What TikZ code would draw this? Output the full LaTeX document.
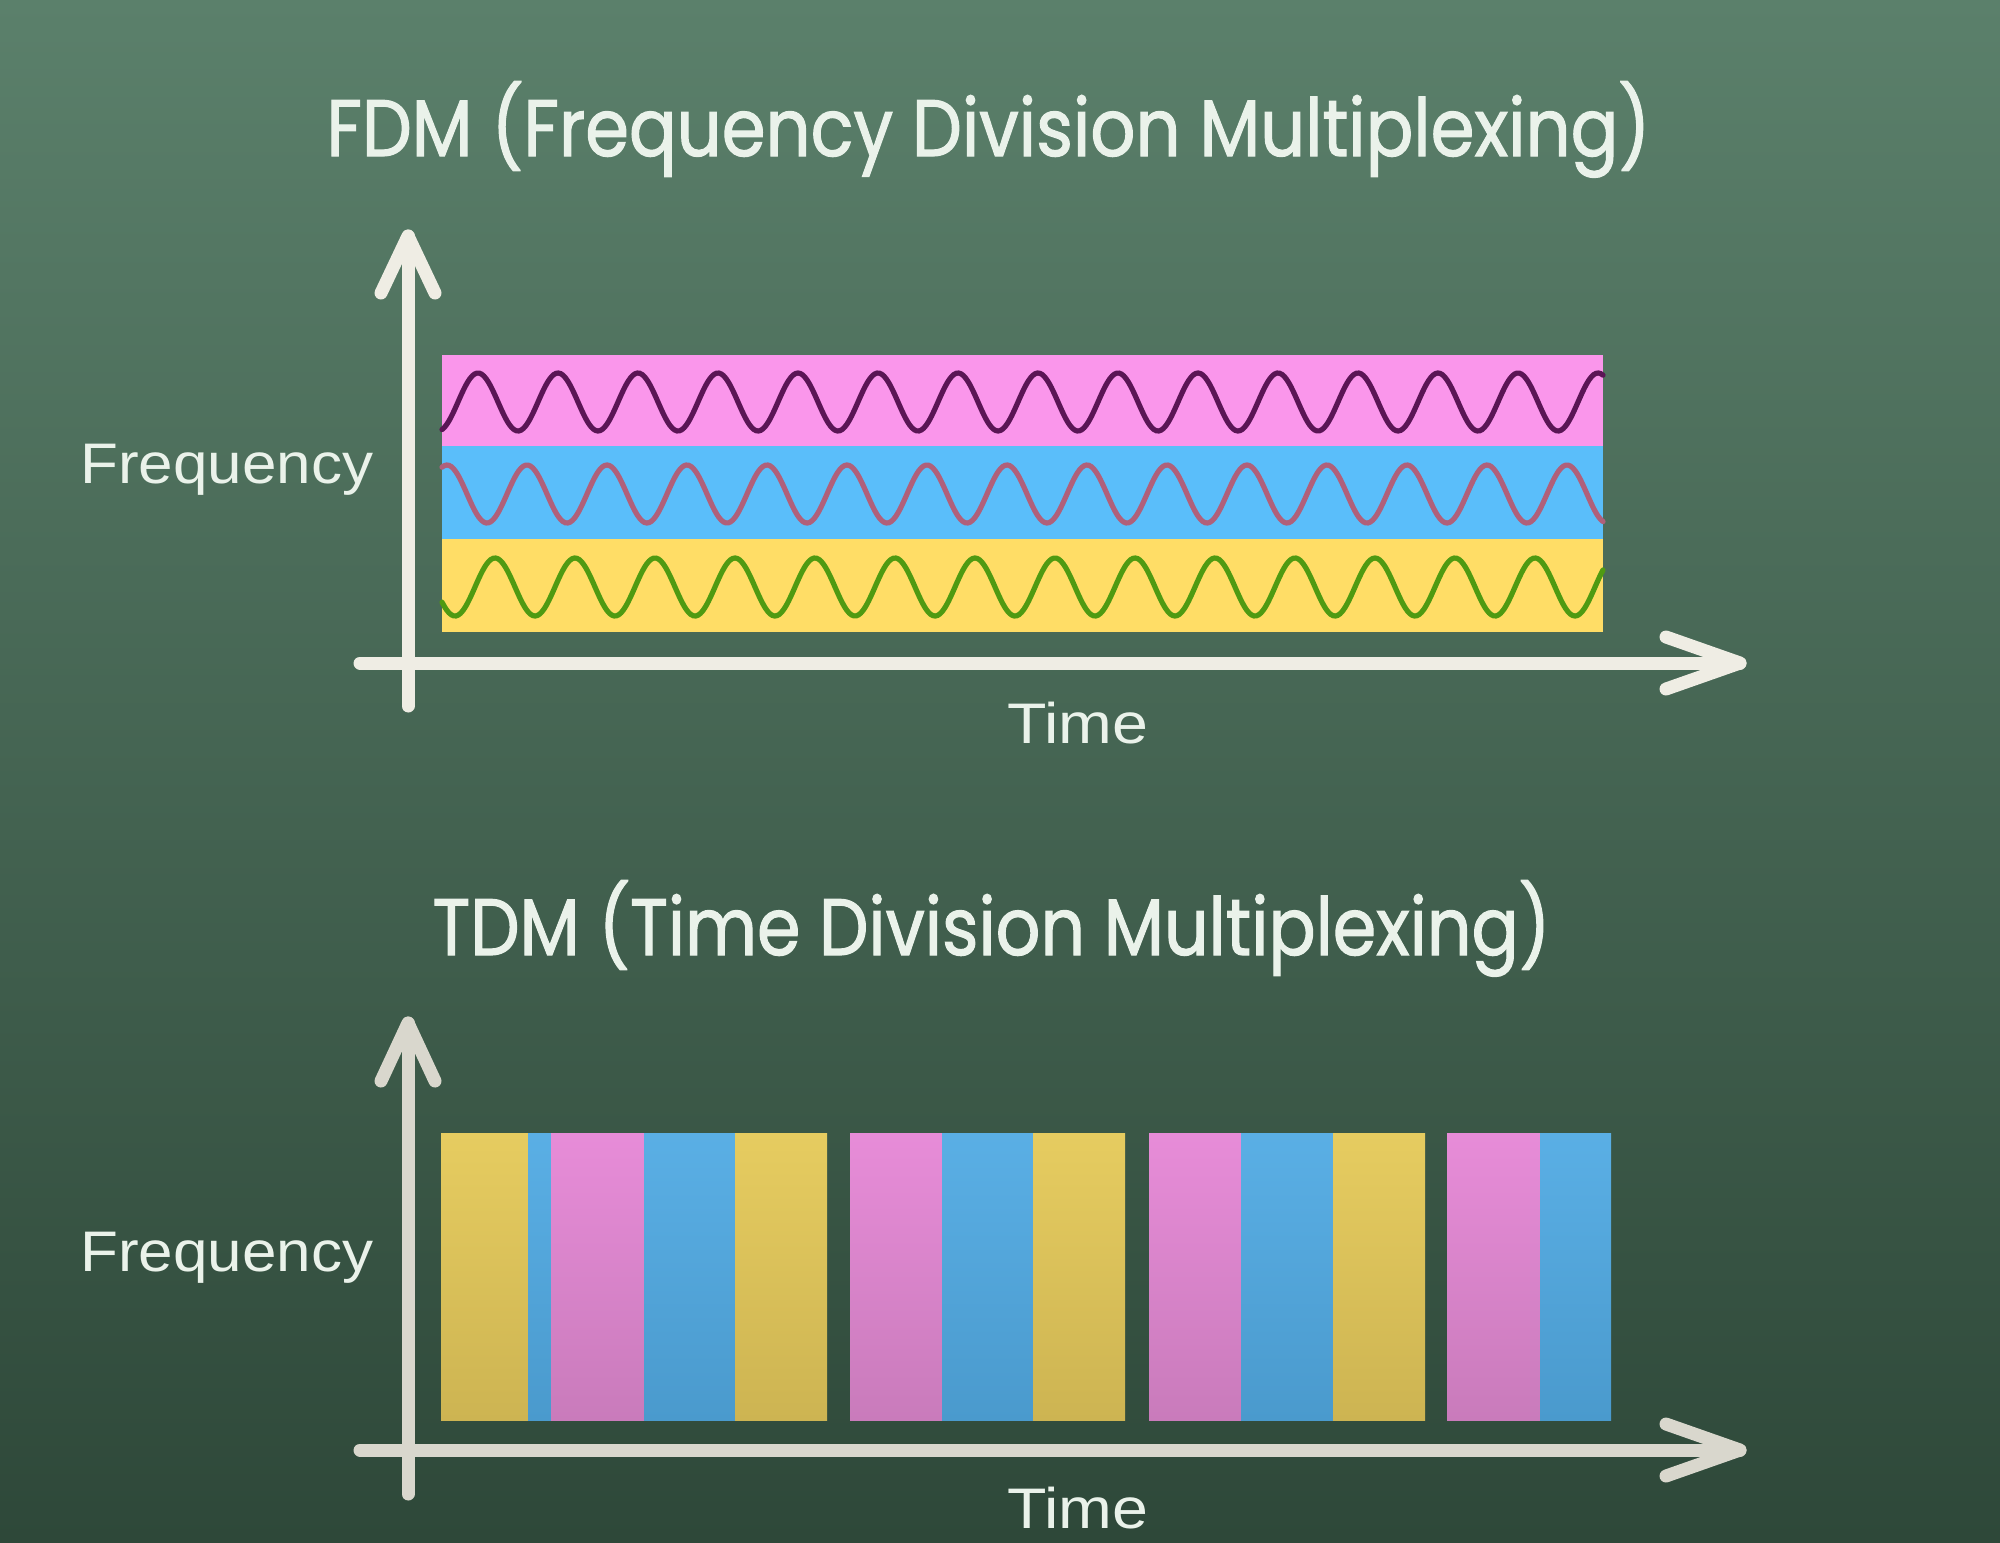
\documentclass[tikz,border=0pt]{standalone}
\usepackage{fontspec}
\usepackage{graphicx}
\newfontfamily\titlefont{Poppins}[FakeBold=1.5]
\newfontfamily\labelfont{Liberation Sans}
\definecolor{bgtop}{HTML}{5B806B}
\definecolor{bgmid}{HTML}{476856}
\definecolor{bgbot}{HTML}{2E4839}
\definecolor{chalk}{HTML}{EFEDE4}
\definecolor{chalkB}{HTML}{D9D7CD}
\definecolor{txt}{HTML}{EAF2EA}
\definecolor{fpink}{HTML}{FA96EB}
\definecolor{fblue}{HTML}{5ABEFA}
\definecolor{fyel}{HTML}{FFDD66}
\definecolor{wpink}{HTML}{5A1555}
\definecolor{wblue}{HTML}{B0607A}
\definecolor{wgreen}{HTML}{4F9A12}
\definecolor{tyelT}{HTML}{E6CC60}
\definecolor{tyelB}{HTML}{CDB452}
\definecolor{tpinkT}{HTML}{E78CD8}
\definecolor{tpinkB}{HTML}{C97BBB}
\definecolor{tblueT}{HTML}{5AAFE5}
\definecolor{tblueB}{HTML}{4A9ACD}
\tikzset{
  axisline/.style={line width=6.5pt, line cap=round, line join=round},
  titletext/.style={anchor=base west, inner sep=0pt, text=txt, font=\titlefont\fontsize{40pt}{48pt}\selectfont},
  labeltext/.style={anchor=base west, inner sep=0pt, text=txt, font=\labelfont\fontsize{28.6pt}{34pt}\selectfont},
  wave/.style={line width=2.6pt, line cap=round},
  ybar/.style={top color=tyelT, bottom color=tyelB},
  pbar/.style={top color=tpinkT, bottom color=tpinkB},
  bbar/.style={top color=tblueT, bottom color=tblueB},
}
\begin{document}
\begin{tikzpicture}[x=0.5pt, y=-0.5pt]
\useasboundingbox (0,0) rectangle (2000,1542);
\shade[top color=bgtop, middle color=bgmid, bottom color=bgbot] (0,0) rectangle (2000,1542);

% ---------- FDM ----------
\node[titletext] (fdmtitle) at (326,156) {\resizebox{662pt}{\height}{FDM (Frequency Division Multiplexing)}};

\fill[fpink] (442,355) rectangle (1603,446);
\fill[fblue] (442,446) rectangle (1603,539);
\fill[fyel]  (442,539) rectangle (1603,632);

\draw[wave, wpink]  plot[domain=442:1603, samples=500, smooth] (\x, {402-29*sin(4.5*(\x-458))});
\draw[wave, wblue]  plot[domain=442:1603, samples=500, smooth] (\x, {494-29*sin(4.5*(\x-427))});
\draw[wave, wgreen] plot[domain=442:1603, samples=500, smooth] (\x, {587-29*sin(4.5*(\x-475))});

\coordinate (fyb) at (408,706);
\coordinate (fyt) at (408,236);
\coordinate (fybl) at (381,293);
\coordinate (fybr) at (435,293);
\coordinate (fxl) at (360,663);
\coordinate (fxr) at (1740,663);
\coordinate (fxbu) at (1666,637);
\coordinate (fxbd) at (1666,689);
\draw[axisline, chalk] (fyb) -- (fyt);
\draw[axisline, chalk] (fybl) -- (fyt) -- (fybr);
\draw[axisline, chalk] (fxl) -- (fxr);
\draw[axisline, chalk] (fxbu) -- (fxr) -- (fxbd);

\node[labeltext] (ffreq) at (80,483) {\resizebox{146.5pt}{\height}{Frequency}};
\node[labeltext] (ftime) at (1007,743) {\resizebox{70.5pt}{\height}{Time}};

% ---------- TDM ----------
\node[titletext] (tdmtitle) at (432,955) {\resizebox{559pt}{\height}{TDM (Time Division Multiplexing)}};

\shade[ybar] (441,1133) rectangle (528,1420);
\shade[bbar] (528,1133) rectangle (551,1420);
\shade[pbar] (551,1133) rectangle (644,1420);
\shade[bbar] (644,1133) rectangle (735,1420);
\shade[ybar] (735,1133) rectangle (827,1420);

\shade[pbar] (850,1133) rectangle (942,1420);
\shade[bbar] (942,1133) rectangle (1033,1420);
\shade[ybar] (1033,1133) rectangle (1125,1420);

\shade[pbar] (1149,1133) rectangle (1241,1420);
\shade[bbar] (1241,1133) rectangle (1333,1420);
\shade[ybar] (1333,1133) rectangle (1425,1420);

\shade[pbar] (1447,1133) rectangle (1540,1420);
\shade[bbar] (1540,1133) rectangle (1611,1420);

\coordinate (tyb) at (408,1494);
\coordinate (tyt) at (408,1023);
\coordinate (tybl) at (381,1081);
\coordinate (tybr) at (435,1081);
\coordinate (txl) at (360,1450);
\coordinate (txr) at (1740,1450);
\coordinate (txbu) at (1666,1424);
\coordinate (txbd) at (1666,1476);
\draw[axisline, chalkB] (tyb) -- (tyt);
\draw[axisline, chalkB] (tybl) -- (tyt) -- (tybr);
\draw[axisline, chalkB] (txl) -- (txr);
\draw[axisline, chalkB] (txbu) -- (txr) -- (txbd);

\node[labeltext] (tfreq) at (80,1271) {\resizebox{146.5pt}{\height}{Frequency}};
\node[labeltext] (ttime) at (1007,1528) {\resizebox{70.5pt}{\height}{Time}};
\end{tikzpicture}
\end{document}
